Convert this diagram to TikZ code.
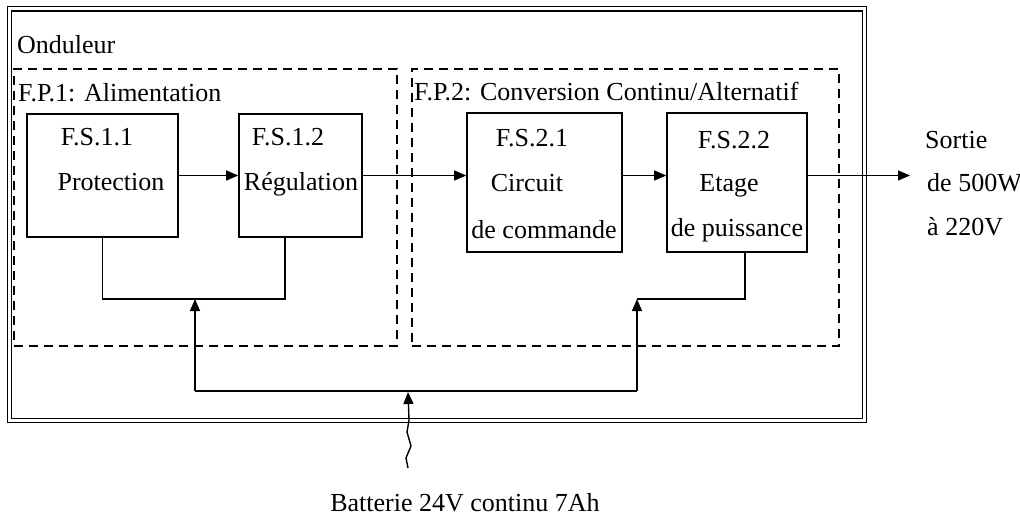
\documentclass[tikz,border=0pt]{standalone}
\usepackage{fontspec}
\setmainfont{Liberation Serif}
\usepackage{tikz}
\usetikzlibrary{arrows.meta}

\begin{document}
\begin{tikzpicture}[
    x=1pt, y=-1pt,
    font=\fontsize{26}{31}\selectfont,
    cadre/.style={draw, double, double distance=3pt, line width=1.3pt, inner sep=0pt},
    fpbox/.style={draw, dash pattern=on 9pt off 6pt, line width=1.3pt, inner sep=0pt},
    fsbox/.style={draw, line width=1.6pt, inner sep=0pt},
    lbl/.style={inner sep=0pt, text height=17pt, text depth=0pt},
    wire/.style={line width=1.4pt},
    arrow/.style={-{Triangle[length=12pt, width=10pt]}, line width=1.4pt},
]
\useasboundingbox (0,0) rectangle (1020,516);

\node[cadre, minimum width=855pt, minimum height=411.5pt] (ond) at (437,214.75) {};
\node[fpbox, minimum width=383pt, minimum height=277pt] (fp1) at (205.5,207.5) {};
\node[fpbox, minimum width=427pt, minimum height=277pt] (fp2) at (625.5,207.5) {};

\node[fsbox, minimum width=151pt, minimum height=123pt] (fs11) at (102.5,175.5) {};
\node[fsbox, minimum width=123pt, minimum height=123pt] (fs12) at (300.5,175.5) {};
\node[fsbox, minimum width=155pt, minimum height=139pt] (fs21) at (544.5,182.5) {};
\node[fsbox, minimum width=140pt, minimum height=139pt] (fs22) at (737,182.5) {};

\node[lbl, anchor=west] (tond) at (17,45) {Onduleur};
\node[lbl, anchor=west] (tfp1) at (18,93) {F.P.1: Alimentation};
\node[lbl, anchor=west] (tfp2) at (414,92) {F.P.2: Conversion Continu/Alternatif};

\node[lbl] (fs11a) at (97,137) {F.S.1.1};
\node[lbl] (fs11b) at (111,182) {Protection};
\node[lbl] (fs12a) at (288,137) {F.S.1.2};
\node[lbl] (fs12b) at (301,182) {Régulation};
\node[lbl] (fs21a) at (532,138) {F.S.2.1};
\node[lbl] (fs21b) at (527,183) {Circuit};
\node[lbl] (fs21c) at (544,230) {de commande};
\node[lbl] (fs22a) at (734,140) {F.S.2.2};
\node[lbl] (fs22b) at (729,183) {Etage};
\node[lbl] (fs22c) at (737,228) {de puissance};

\node[lbl, anchor=west] (sort1) at (925,140) {Sortie};
\node[lbl, anchor=west] (sort2) at (927,183) {de 500W};
\node[lbl, anchor=west] (sort3) at (927,227) {à 220V};
\node[lbl] (batt) at (465,503) {Batterie 24V continu 7Ah};

\coordinate (sortie) at (910,175.5);
\coordinate (j1) at (285,299);
\coordinate (fbg) at (195,299);
\coordinate (fbd) at (637,299);
\coordinate (busg) at (195,391);
\coordinate (busd) at (637,391);
\coordinate (busm) at (408,392);
\coordinate (bsrc) at (408,468);

\draw[arrow] (fs11.east) -- (fs12.west);
\draw[arrow] (fs12.east) -- (fs12.east -| fs21.west);
\draw[arrow] (fs21.east |- fs12.east) -- (fs22.west |- fs12.east);
\draw[arrow] (fs22.east |- fs12.east) -- (sortie);

\draw[wire] (fs11.south) |- (j1) -- (j1 |- fs12.south);
\draw[wire] (fbd) -| ([xshift=8pt]fs22.south);
\draw[wire] (busg) -- (busd);
\draw[arrow] (busg) -- (fbg);
\draw[arrow] (busd) -- (fbd);
\draw[arrow] (bsrc) -- ++(-2,-10) -- ++(5,-12) -- ++(-4,-14) -- ++(2,-12) -- (busm);

\end{tikzpicture}
\end{document}
